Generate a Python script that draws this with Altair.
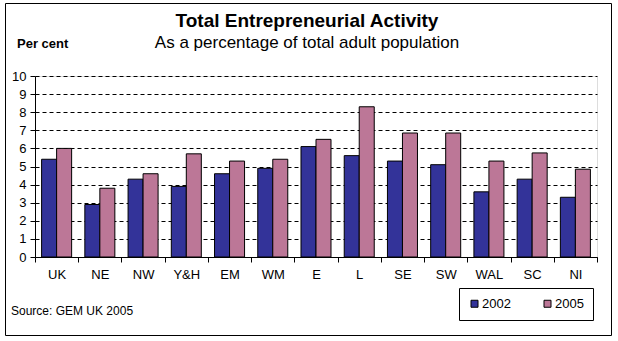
import altair as alt
import pandas as pd

# ---- data ----
regions = ["UK", "NE", "NW", "Y&H", "EM", "WM", "E", "L", "SE", "SW", "WAL", "SC", "NI"]
years = ["2002", "2005"]
tea_2002 = [5.4, 2.9, 4.3, 3.9, 4.6, 4.9, 6.1, 5.6, 5.3, 5.1, 3.6, 4.3, 3.3]
tea_2005 = [6.0, 3.8, 4.6, 5.7, 5.3, 5.4, 6.5, 8.3, 6.85, 6.85, 5.3, 5.75, 4.85]
y_ticks = list(range(0, 11))

TITLE = "Total Entrepreneurial Activity"
SUBTITLE = "As a percentage of total adult population"
Y_LABEL = "Per cent"
SOURCE = "Source: GEM UK 2005"

FONT = "Liberation Sans"
BLUE = "#333399"
PINK = "#BC7797"

rows = []
for r, a, b in zip(regions, tea_2002, tea_2005):
    rows.append({"region": r, "year": years[0], "value": a})
    rows.append({"region": r, "year": years[1], "value": b})
df = pd.DataFrame(rows)

bars = alt.Chart(df).mark_bar(stroke="black", strokeWidth=1).encode(
    x=alt.X(
        "region:N",
        sort=regions,
        scale=alt.Scale(paddingInner=0, paddingOuter=0),
        axis=alt.Axis(
            title=None, labelAngle=0, tickBand="extent", tickSize=5,
            tickColor="black", domainColor="black", labelFontSize=13,
            labelPadding=6, labelColor="black", labelFont=FONT, grid=False,
        ),
    ),
    xOffset=alt.XOffset("year:N", sort=years,
                        scale=alt.Scale(paddingInner=0, paddingOuter=0.44)),
    y=alt.Y(
        "value:Q",
        scale=alt.Scale(domain=[0, 10], nice=False),
        axis=alt.Axis(
            values=y_ticks, title=None, grid=True, gridColor="black",
            gridDash=[4, 3], gridWidth=1, tickColor="black", tickSize=5,
            domainColor="black", labelFontSize=13, labelColor="black",
            labelPadding=4, labelFont=FONT,
        ),
    ),
    color=alt.Color(
        "year:N",
        scale=alt.Scale(domain=years, range=[BLUE, PINK]),
        legend=alt.Legend(
            title=None, orient="none", legendX=424, legendY=212,
            direction="horizontal", padding=9, strokeColor="black",
            fillColor="white", columnPadding=30, labelOffset=1,
            symbolType="square", symbolSize=49, symbolStrokeColor="black",
            symbolStrokeWidth=1, labelFontSize=13, labelFont=FONT,
            labelColor="black",
        ),
    ),
)


def one(label):
    return alt.Chart(pd.DataFrame({"label": [label]}))


frame = one("frame").mark_rect(fill="white", fillOpacity=0, stroke="black",
                               strokeWidth=1).encode(
    x=alt.value(-29.5), x2=alt.value(576.5), y=alt.value(-72.5), y2=alt.value(259.5)
)

title_t = one(TITLE).mark_text(align="center", baseline="alphabetic", fontSize=19,
                               fontWeight="bold", font=FONT, color="black").encode(
    text="label:N", x=alt.value(272), y=alt.value(-49)
)
sub_t = one(SUBTITLE).mark_text(align="center", baseline="alphabetic", fontSize=17,
                                font=FONT, color="black").encode(
    text="label:N", x=alt.value(272), y=alt.value(-28)
)
pc_t = one(Y_LABEL).mark_text(align="left", baseline="alphabetic", fontSize=13,
                              fontWeight="bold", font=FONT, color="black").encode(
    text="label:N", x=alt.value(-18), y=alt.value(-28)
)
src_t = one(SOURCE).mark_text(align="left", baseline="alphabetic", fontSize=12,
                              font=FONT, color="black").encode(
    text="label:N", x=alt.value(-24), y=alt.value(239)
)

chart = alt.layer(frame, bars, title_t, sub_t, pc_t, src_t).properties(
    width=562,
    height=181,
    autosize=alt.AutoSizeParams(type="none"),
    padding={"left": 35, "top": 76, "right": 21, "bottom": 84},
).configure_view(stroke="black", strokeWidth=1).configure(
    font=FONT, background="white"
)

chart.save("out.html", embed_options={"renderer": "svg", "actions": False})
